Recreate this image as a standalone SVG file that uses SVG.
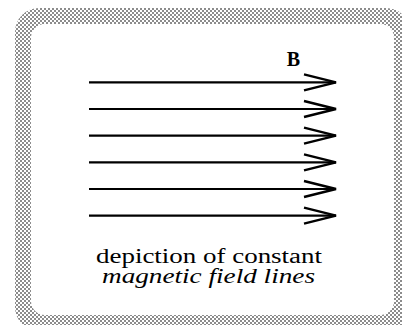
<svg xmlns="http://www.w3.org/2000/svg" width="402" height="325" viewBox="0 0 402 325">
<defs>
<pattern id="chk" width="4" height="4" patternUnits="userSpaceOnUse">
<rect width="4" height="4" fill="#ffffff"/>
<rect width="2" height="2" fill="#8c8c8c"/>
<rect x="2" y="2" width="2" height="2" fill="#8c8c8c"/>
</pattern>
<marker id="head" markerUnits="userSpaceOnUse" markerWidth="40" markerHeight="24" refX="34" refY="10" orient="auto" viewBox="0 0 40 24">
<path d="M2,2 L34,10 L2,18" fill="none" stroke="#000" stroke-width="2.4" stroke-linejoin="miter"/>
</marker>
<style>
.fl{stroke:#000;stroke-width:2.2;fill:none;marker-end:url(#head)}
.t{font-family:"Liberation Serif","DejaVu Serif",serif;font-size:20px;fill:#000}
</style>
</defs>
<g id="frame">
<path d="M39,8 H386 A24,24 0 0 1 410,32 V307 A24,24 0 0 1 386,331 H39 A24,24 0 0 1 15,307 V32 A24,24 0 0 1 39,8 Z M45,24 H380 A14,14 0 0 1 394,38 V301 A14,14 0 0 1 380,315 H45 A14,14 0 0 1 31,301 V38 A14,14 0 0 1 45,24 Z" fill="url(#chk)" fill-rule="evenodd"/>
</g>
<g id="connectors">
<line class="fl" x1="89" y1="82.3" x2="336" y2="82.3"/>
<line class="fl" x1="89" y1="109" x2="336" y2="109"/>
<line class="fl" x1="89" y1="135.7" x2="336" y2="135.7"/>
<line class="fl" x1="89" y1="162.3" x2="336" y2="162.3"/>
<line class="fl" x1="89" y1="189" x2="336" y2="189"/>
<line class="fl" x1="89" y1="215.7" x2="336" y2="215.7"/>
</g>
<g id="label-B">
<text class="t" x="293.5" y="66" text-anchor="middle" font-weight="bold" font-size="19">B</text>
</g>
<g id="caption">
<text class="t" x="96" y="263" textLength="226" lengthAdjust="spacingAndGlyphs">depiction of constant</text>
<text class="t" x="102" y="283" font-style="italic" textLength="213" lengthAdjust="spacingAndGlyphs">magnetic field lines</text>
</g>
</svg>
